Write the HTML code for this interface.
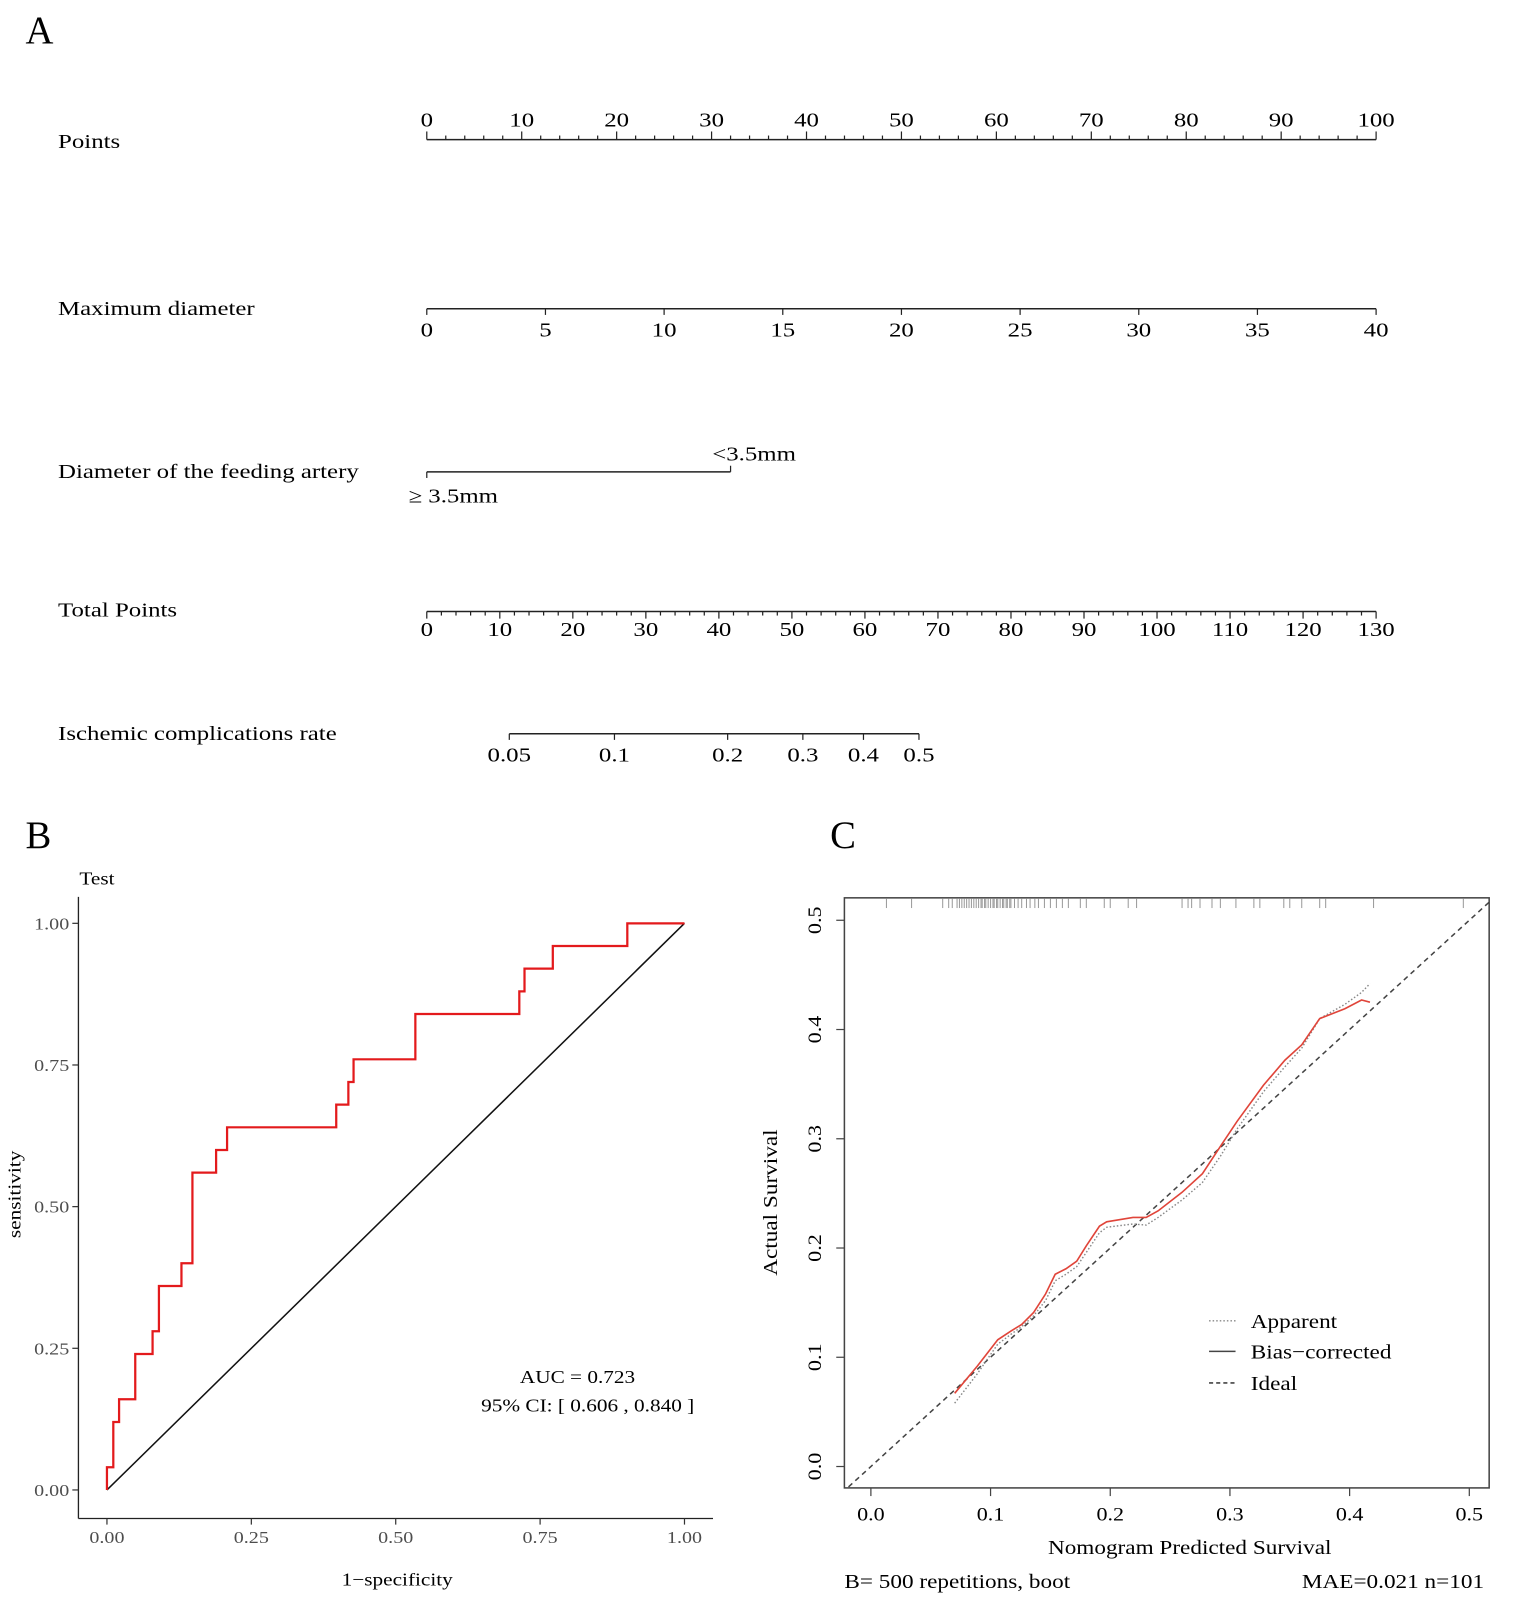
<!DOCTYPE html>
<html><head><meta charset="utf-8"><style>
html,body{margin:0;padding:0;background:#fff;}
svg{display:block;font-family:"Liberation Serif",serif;}
</style></head><body>
<svg id="fig" width="1535" height="1599" viewBox="0 0 1507 1569" preserveAspectRatio="none" xmlns="http://www.w3.org/2000/svg">
<rect width="1507" height="1569" fill="#fff"/>
<g id="nomo"></g>
<g id="roc"></g>
<g id="cal"></g>
</svg>
<script>
// ---------- Nomogram data ----------
const pointsTicks=[0,10,20,30,40,50,60,70,80,90,100];
const diamTicks=[0,5,10,15,20,25,30,35,40];
const totalTicks=[0,10,20,30,40,50,60,70,80,90,100,110,120,130];
const riskTicks=[0.05,0.1,0.2,0.3,0.4,0.5];
const riskLabels=["0.05","0.1","0.2","0.3","0.4","0.5"];
const riskTotalPts=[11.3,25.7,41.2,51.5,59.8,67.4];
const arteryPoints=[0,32];
// ---------- ROC data ----------
const rocFpr=[0,0,0.011,0.011,0.021,0.021,0.049,0.049,0.079,0.079,0.09,0.09,0.129,0.129,0.148,0.148,0.189,0.189,0.208,0.208,0.397,0.397,0.418,0.418,0.427,0.427,0.534,0.534,0.714,0.714,0.723,0.723,0.772,0.772,0.901,0.901,1];
const rocTpr=[0,0.04,0.04,0.12,0.12,0.16,0.16,0.24,0.24,0.28,0.28,0.36,0.36,0.40,0.40,0.56,0.56,0.60,0.60,0.64,0.64,0.68,0.68,0.72,0.72,0.76,0.76,0.84,0.84,0.88,0.88,0.92,0.92,0.96,0.96,1,1];
const rocTicks=[0,0.25,0.5,0.75,1];
const rocTickLabels=["0.00","0.25","0.50","0.75","1.00"];
// ---------- Calibration data ----------
const calPred=[0.070,0.089,0.106,0.117,0.126,0.136,0.146,0.154,0.163,0.172,0.180,0.191,0.197,0.219,0.230,0.240,0.260,0.277,0.292,0.306,0.328,0.346,0.360,0.375,0.396,0.410,0.417];
const calBias=[0.067,0.092,0.116,0.124,0.130,0.141,0.158,0.176,0.181,0.188,0.202,0.220,0.224,0.228,0.228,0.234,0.251,0.268,0.293,0.316,0.349,0.372,0.386,0.410,0.419,0.427,0.425];
const calApparent=[0.058,0.085,0.112,0.121,0.128,0.138,0.152,0.170,0.176,0.183,0.196,0.214,0.219,0.222,0.221,0.228,0.244,0.260,0.284,0.309,0.343,0.366,0.383,0.410,0.423,0.434,0.442];
const rugX=[0.013,0.034,0.06,0.065,0.068,0.072,0.074,0.076,0.078,0.08,0.082,0.084,0.086,0.088,0.09,0.092,0.093,0.095,0.096,0.098,0.1,0.102,0.103,0.105,0.106,0.108,0.11,0.111,0.113,0.114,0.116,0.117,0.12,0.123,0.126,0.13,0.133,0.137,0.14,0.145,0.15,0.155,0.16,0.165,0.175,0.18,0.195,0.2,0.215,0.222,0.26,0.265,0.268,0.275,0.285,0.292,0.305,0.32,0.325,0.345,0.35,0.36,0.375,0.38,0.42,0.495];
const calTicks=[0,0.1,0.2,0.3,0.4,0.5];
const calTickLabels=["0.0","0.1","0.2","0.3","0.4","0.5"];

const NS="http://www.w3.org/2000/svg";
function mk(parent,tag,attrs,text){const e=document.createElementNS(NS,tag);for(const k in attrs)e.setAttribute(k,attrs[k]);if(text!==undefined)e.textContent=text;parent.appendChild(e);return e;}

// ===== Nomogram =====
const nomo=document.getElementById('nomo');
const nx=p=>419+p*(1351-419)/100;
const ntx=t=>419+t*(1351-419)/130;
const L=mk(nomo,'text',{x:25,y:42,'font-size':38},'A');


const rowNames=[["Points",145,"points-label"],["Maximum diameter",309,"maximum-diameter-label"],["Diameter of the feeding artery",469,"feeding-artery-label"],["Total Points",605,"total-points-label"],["Ischemic complications rate",726,"ischemic-rate-label"]];
rowNames.forEach(r=>{const t=mk(nomo,'text',{x:57,y:r[1],'font-size':20},r[0]);

});
let g=mk(nomo,'g',{});


mk(g,'line',{x1:nx(0),x2:nx(100),y1:137,y2:137,stroke:'#222','stroke-width':1.5});
for(let p=0;p<=100;p+=2){mk(g,'line',{x1:nx(p),x2:nx(p),y1:137,y2:p%10===0?129:133,stroke:'#222','stroke-width':1.2});}
pointsTicks.forEach(p=>mk(g,'text',{x:nx(p),y:124,'font-size':20,'text-anchor':'middle'},String(p)));
g=mk(nomo,'g',{});


const dx=d=>419+d*(1351-419)/40;
mk(g,'line',{x1:dx(0),x2:dx(40),y1:303,y2:303,stroke:'#222','stroke-width':1.5});
diamTicks.forEach(d=>{mk(g,'line',{x1:dx(d),x2:dx(d),y1:303,y2:309,stroke:'#222','stroke-width':1.2});
mk(g,'text',{x:dx(d),y:330,'font-size':20,'text-anchor':'middle'},String(d));});
g=mk(nomo,'g',{});


mk(g,'line',{x1:nx(arteryPoints[0]),x2:nx(arteryPoints[1]),y1:463,y2:463,stroke:'#222','stroke-width':1.5});
mk(g,'line',{x1:nx(arteryPoints[0]),x2:nx(arteryPoints[0]),y1:463,y2:469,stroke:'#222','stroke-width':1.2});
mk(g,'line',{x1:nx(arteryPoints[1]),x2:nx(arteryPoints[1]),y1:463,y2:457,stroke:'#222','stroke-width':1.2});
mk(g,'text',{x:nx(arteryPoints[1])-18,y:452,'font-size':20},'<3.5mm');
mk(g,'text',{x:nx(arteryPoints[0])-18,y:493,'font-size':20},'≥ 3.5mm');
g=mk(nomo,'g',{});


mk(g,'line',{x1:ntx(0),x2:ntx(130),y1:600,y2:600,stroke:'#222','stroke-width':1.5});
for(let t=0;t<=130;t+=2){mk(g,'line',{x1:ntx(t),x2:ntx(t),y1:600,y2:t%10===0?607:604,stroke:'#222','stroke-width':1.2});}
totalTicks.forEach(t=>mk(g,'text',{x:ntx(t),y:624,'font-size':20,'text-anchor':'middle'},String(t)));
g=mk(nomo,'g',{});


mk(g,'line',{x1:ntx(riskTotalPts[0]),x2:ntx(riskTotalPts[5]),y1:720,y2:720,stroke:'#222','stroke-width':1.5});
riskTotalPts.forEach((t,i)=>{mk(g,'line',{x1:ntx(t),x2:ntx(t),y1:720,y2:726,stroke:'#222','stroke-width':1.2});
mk(g,'text',{x:ntx(t),y:747,'font-size':20,'text-anchor':'middle'},riskLabels[i]);});

// ===== ROC =====
const roc=document.getElementById('roc');
const rx=f=>105+f*567, ry=s=>1462-s*556;
let t=mk(roc,'text',{x:25,y:832,'font-size':38},'B');


t=mk(roc,'text',{x:78,y:868,'font-size':18},'Test');


mk(roc,'line',{x1:77,x2:77,y1:880,y2:1490,stroke:'#222','stroke-width':1.3});
mk(roc,'line',{x1:77,x2:700,y1:1490,y2:1490,stroke:'#222','stroke-width':1.3});
rocTicks.forEach((v,i)=>{
 mk(roc,'line',{x1:71,x2:77,y1:ry(v),y2:ry(v),stroke:'#333','stroke-width':1.2});
 mk(roc,'text',{x:68,y:ry(v)+6,'font-size':17,'text-anchor':'end',fill:'#4d4d4d'},rocTickLabels[i]);
 mk(roc,'line',{x1:rx(v),x2:rx(v),y1:1490,y2:1496,stroke:'#333','stroke-width':1.2});
 mk(roc,'text',{x:rx(v),y:1514,'font-size':17,'text-anchor':'middle',fill:'#4d4d4d'},rocTickLabels[i]);
});
t=mk(roc,'text',{x:20,y:1172,'font-size':18,'text-anchor':'middle',transform:'rotate(-90 20 1172)'},'sensitivity');


t=mk(roc,'text',{x:390,y:1556,'font-size':18,'text-anchor':'middle'},'1−specificity');


let ln=mk(roc,'line',{x1:rx(0),y1:ry(0),x2:rx(1),y2:ry(1),stroke:'#111','stroke-width':1.5});


let pts=rocFpr.map((f,i)=>rx(f)+','+ry(rocTpr[i])).join(' ');
ln=mk(roc,'polyline',{points:pts,fill:'none',stroke:'#e31a1c','stroke-width':2.2});


t=mk(roc,'text',{x:567,y:1357,'font-size':18,'text-anchor':'middle'},'AUC =  0.723');


t=mk(roc,'text',{x:577,y:1385,'font-size':18,'text-anchor':'middle'},'95% CI: [ 0.606 ,  0.840 ]');



// ===== Calibration =====
const cal=document.getElementById('cal');
const cx=v=>855+v*1175, cy=v=>1439-v*1072;
t=mk(cal,'text',{x:815,y:832,'font-size':38},'C');


mk(cal,'defs',{}).innerHTML='<clipPath id="cb"><rect x="829" y="881" width="633" height="579"/></clipPath>';
mk(cal,'rect',{x:829,y:881,width:633,height:579,fill:'none',stroke:'#444','stroke-width':1.5});
calTicks.forEach((v,i)=>{
 mk(cal,'line',{x1:821,x2:829,y1:cy(v),y2:cy(v),stroke:'#444','stroke-width':1.2});
 mk(cal,'text',{x:806,y:cy(v),'font-size':19,'text-anchor':'middle',transform:`rotate(-90 806 ${cy(v)})`},calTickLabels[i]);
 mk(cal,'line',{x1:cx(v),x2:cx(v),y1:1460,y2:1468,stroke:'#444','stroke-width':1.2});
 mk(cal,'text',{x:cx(v),y:1492,'font-size':19,'text-anchor':'middle'},calTickLabels[i]);
});
rugX.forEach(v=>{const r=mk(cal,'line',{x1:cx(v),x2:cx(v),y1:882,y2:891,stroke:'#999','stroke-width':1});

});
const cg=mk(cal,'g',{'clip-path':'url(#cb)'});
ln=mk(cg,'line',{x1:cx(-0.03),y1:cy(-0.03),x2:cx(0.55),y2:cy(0.55),stroke:'#444','stroke-width':1.5,'stroke-dasharray':'5,4'});


ln=mk(cg,'polyline',{points:calPred.map((p,i)=>cx(p)+','+cy(calApparent[i])).join(' '),fill:'none',stroke:'#888','stroke-width':1.4,'stroke-dasharray':'1.5,2'});


ln=mk(cg,'polyline',{points:calPred.map((p,i)=>cx(p)+','+cy(calBias[i])).join(' '),fill:'none',stroke:'#e0453a','stroke-width':1.6});


const lg=mk(cal,'g',{});


mk(lg,'line',{x1:1187,x2:1213,y1:1296,y2:1296,stroke:'#888','stroke-width':1.4,'stroke-dasharray':'1.5,2'});
mk(lg,'text',{x:1228,y:1303,'font-size':20},'Apparent');
mk(lg,'line',{x1:1187,x2:1213,y1:1326,y2:1326,stroke:'#444','stroke-width':1.5});
mk(lg,'text',{x:1228,y:1333,'font-size':20},'Bias−corrected');
mk(lg,'line',{x1:1187,x2:1213,y1:1357,y2:1357,stroke:'#444','stroke-width':1.5,'stroke-dasharray':'4,3'});
mk(lg,'text',{x:1228,y:1364,'font-size':20},'Ideal');
t=mk(cal,'text',{x:763,y:1180,'font-size':20,'text-anchor':'middle',transform:'rotate(-90 763 1180)'},'Actual Survival');


t=mk(cal,'text',{x:1168,y:1525,'font-size':20,'text-anchor':'middle'},'Nomogram Predicted Survival');


t=mk(cal,'text',{x:829,y:1558,'font-size':20},'B= 500 repetitions, boot');


t=mk(cal,'text',{x:1457,y:1558,'font-size':20,'text-anchor':'end'},'MAE=0.021 n=101');



// horizontal stretch of text to match reference glyph widths
function stretch(root,s){
 root.querySelectorAll('text').forEach(el=>{
  if(+el.getAttribute('font-size')>=38)return;
  const x=el.getAttribute('x');
  const prev=el.getAttribute('transform')||'';
  el.setAttribute('transform',prev+` translate(${x},0) scale(${s},1) translate(${-x},0)`);
 });
}
stretch(nomo,1.22);
stretch(roc,1.16);
stretch(cal,1.14);
</script>
</body></html>
